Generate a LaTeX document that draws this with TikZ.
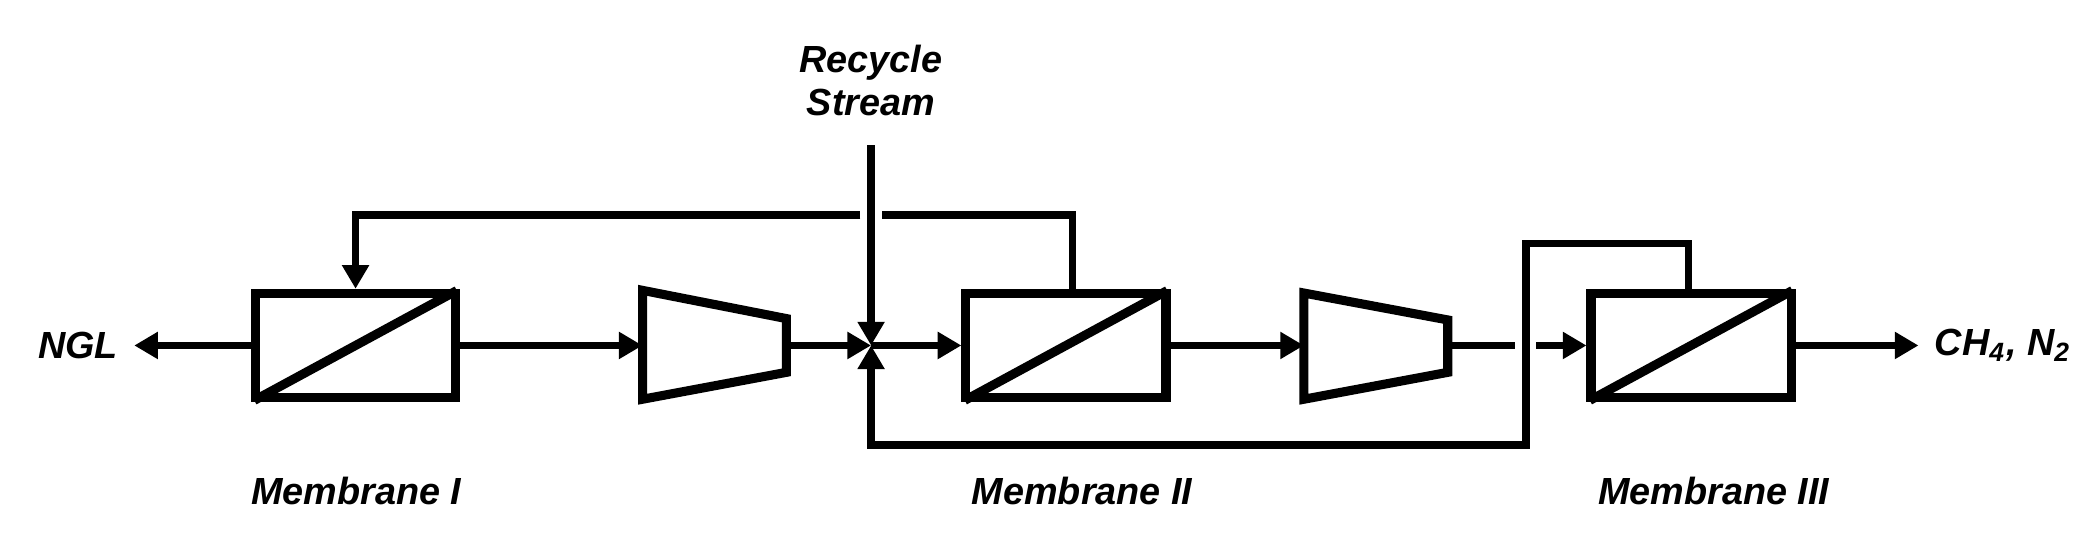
\documentclass[tikz,border=0pt]{standalone}
\usepackage{fontspec}
\setmainfont{Liberation Sans}
\usetikzlibrary{arrows.meta, positioning}

\begin{document}
\begin{tikzpicture}[x=0.0125cm, y=-0.0125cm,
  line width=2pt,
  membrane/.style={rectangle, draw, line width=2.4pt, minimum height=0.97cm, minimum width=1.86cm, inner sep=0pt},
  lbl/.style={font=\fontsize{10}{12.5}\selectfont\bfseries\itshape, align=center},
  arrow/.style={-{Triangle[length=2.2mm, width=2.4mm]}, line width=2pt}
]
\useasboundingbox (0,0) rectangle (1560,402);

% membranes
\node[membrane] (M1) at (264.5,257) {};
\node[membrane] (M2) at (793,257) {};
\node[membrane] (M3) at (1258,257) {};
\foreach \m in {M1,M2,M3}
  \draw[line width=2.4pt, shorten <=1pt, shorten >=1pt] (\m.south west) -- (\m.north east);

% compressors
\draw[line width=2.4pt] (478,216) -- (585,237) -- (585,277) -- (478,297) -- cycle;
\draw[line width=2.4pt] (970,218) -- (1077,238) -- (1077,277) -- (970,297) -- cycle;
\coordinate (C1in) at (478,257);
\coordinate (C1out) at (585,257);
\coordinate (C2in) at (970,257);
\coordinate (C2out) at (1077,257);
\coordinate (mix) at (648,257);

% labels
\node[lbl] (ngl) at (58,257) {NGL};
\node[lbl] (prod) at (1490,257) {CH\textsubscript{4}, N\textsubscript{2}};
\node[lbl] (rec) at (648,60) {Recycle\\[-1pt]Stream};
\node[lbl] (l1) at (265,365) {Membrane I};
\node[lbl] (l2) at (805,365) {Membrane II};
\node[lbl] (l3) at (1275,365) {Membrane III};

% main line
\draw[arrow] (M1.west) -- (ngl.east |- M1.west);
\draw[arrow] (M1.east) -- (C1in);
\draw[arrow] (C1out) -- (mix);
\draw[arrow] (mix) -- (M2.west);
\draw[arrow] (M2.east) -- (C2in);
\draw (C2out) -- (1127,257);
\draw[arrow] (1143,257) -- (M3.west);
\draw[arrow] (M3.east) -- (prod.west |- M3.east);

% recycle stream
\draw[arrow] (648,108) -- (mix);

% permeate of membrane II back to membrane I
\draw (M2.north -| 798,0) |- (656,160);
\draw[arrow] (640,160) -| (M1.north);

% permeate of membrane III back to mixing point
\draw[arrow] (M3.north -| 1256,0) |- (1135,181) -- (1135,331) -| (mix);

\end{tikzpicture}
\end{document}
